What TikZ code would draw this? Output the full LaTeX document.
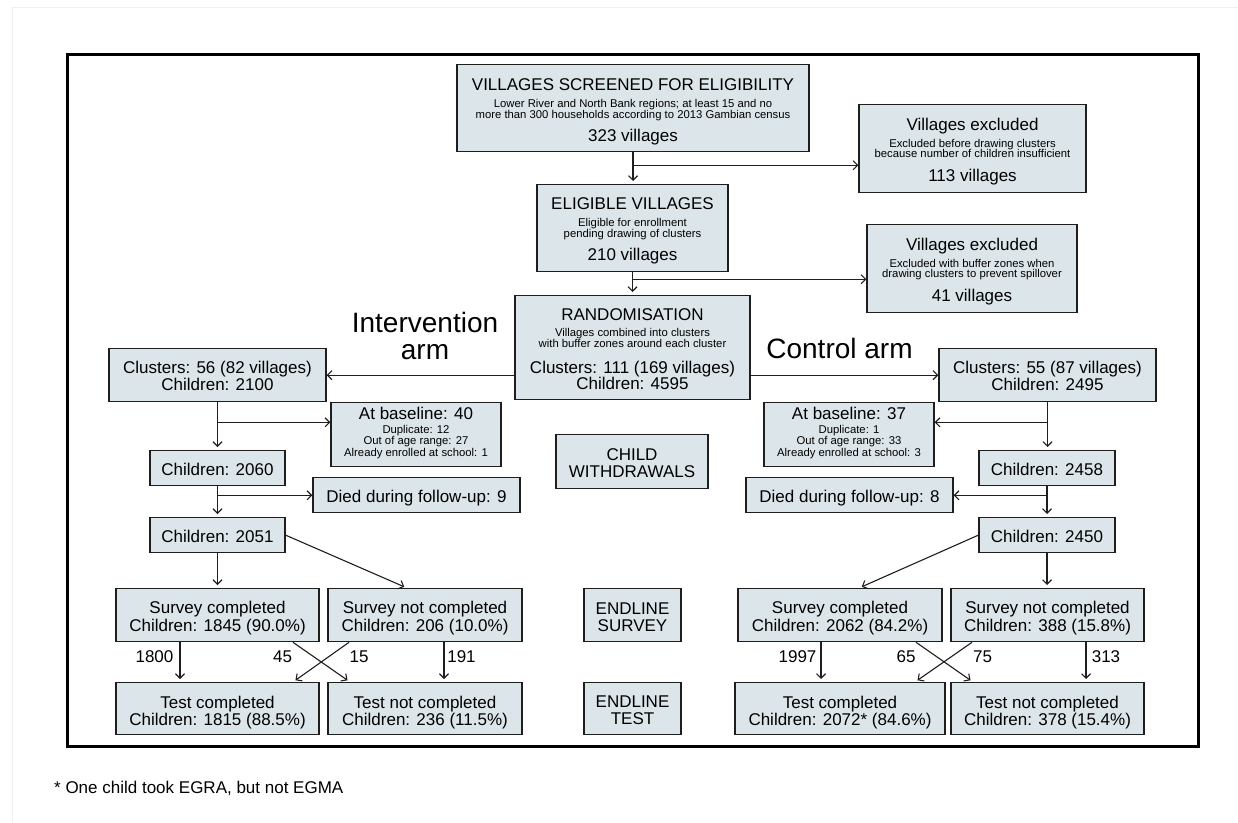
\documentclass[tikz,border=0pt]{standalone}
\usepackage{fontspec}
\setmainfont{Liberation Sans}
\usetikzlibrary{arrows.meta,calc}
\definecolor{boxfill}{RGB}{220,230,234}
\definecolor{ink}{RGB}{30,30,30}
\newcommand\bigf{\fontsize{17}{17}\selectfont}
\newcommand\smf{\fontsize{11.3}{11.3}\selectfont}
\newcommand\tst[1]{\rule{0pt}{#1pt}}
\newcommand\bst[1]{\rule[-#1pt]{0pt}{#1pt}}
\begin{document}
\begin{tikzpicture}[x=1pt,y=-1pt,
 box/.style={draw=ink, fill=boxfill, line width=1.3pt, inner sep=0pt, align=center, font=\bigf, anchor=north},
 arr/.style={draw=ink, line width=1.1pt, -{Straight Barb[length=4.5pt,width=9pt,line width=1.1pt]}},
 gap/.style={shorten >=3pt},
 num/.style={font=\bigf, inner sep=0pt, anchor=base}]
\useasboundingbox (0,0) rectangle (1238,822);
\draw[gray!12, line width=0.8pt] (12,822) -- (12,7) -- (1238,7);
\draw[line width=3pt] (67,54.5) rectangle (1198.5,746.5);

% top section
\node[box, minimum width=352pt] (scr) at (633,64) {\tst{26}VILLAGES SCREENED FOR ELIGIBILITY\\[0.2pt]{\smf Lower River and North Bank regions; at least 15 and no}\\[-6.4pt]{\smf more than 300 households according to 2013 Gambian census}\\[6.2pt]323 villages\bst{10}};
\node[box, minimum width=191pt] (elig) at (632.5,184) {\tst{25}ELIGIBLE VILLAGES\\[0.2pt]{\smf Eligible for enrollment}\\[-6.4pt]{\smf pending drawing of clusters}\\[6.2pt]210 villages\bst{11}};
\node[box, minimum width=227pt] (exc1) at (972.5,104) {\tst{25.5}Villages excluded\\[0.2pt]{\smf Excluded before drawing clusters}\\[-6.4pt]{\smf because number of children insufficient}\\[6.2pt]113 villages\bst{11.5}};
\node[box, minimum width=210pt] (exc2) at (972,224) {\tst{25.5}Villages excluded\\[0.2pt]{\smf Excluded with buffer zones when}\\[-6.4pt]{\smf drawing clusters to prevent spillover}\\[6.2pt]41 villages\bst{11.5}};
\node[box, minimum width=235pt] (rand) at (632.5,295) {\tst{25}RANDOMISATION\\[-1pt]{\smf Villages combined into clusters}\\[-6.3pt]{\smf with buffer zones around each cluster}\\[9.6pt]Clusters: 111 (169 villages)\\[-1.3pt]Children: 4595\bst{10}};

% arm labels
\node[font=\fontsize{28}{27}\selectfont, align=center, inner sep=0pt] (intlab) at (425,335.5) {Intervention\\arm};
\node[font=\fontsize{28}{28}\selectfont, inner sep=0pt, anchor=base] (ctllab) at (839.5,358) {Control arm};

% arms
\node[box, minimum width=217pt] (cl56) at (217.5,348) {\tst{25.3}Clusters: 56 (82 villages)\\[-0.3pt]Children: 2100\bst{11}};
\node[box, minimum width=217pt] (cl55) at (1047.5,348) {\tst{25.3}Clusters: 55 (87 villages)\\[-0.3pt]Children: 2495\bst{11}};
\node[box, minimum width=170pt] (base40) at (416,402) {\tst{16.7}At baseline: 40\\[-3pt]{\smf Duplicate: 12}\\[-5.4pt]{\smf Out of age range: 27}\\[-5.3pt]{\smf Already enrolled at school: 1}\bst{10}};
\node[box, minimum width=170pt] (base37) at (849,402) {\tst{16.7}At baseline: 37\\[-3pt]{\smf Duplicate: 1}\\[-5.4pt]{\smf Out of age range: 33}\\[-5.3pt]{\smf Already enrolled at school: 3}\bst{10}};
\node[box, minimum width=135pt] (c2060) at (217.5,450) {\tst{25}Children: 2060\bst{10}};
\node[box, minimum width=136pt] (c2458) at (1047,450) {\tst{25}Children: 2458\bst{10}};
\node[box, minimum width=152pt] (withdr) at (632,434) {\tst{26}CHILD\\[0.3pt]WITHDRAWALS\bst{10.7}};
\node[box, minimum width=207pt] (died9) at (416.5,477) {\tst{24.7}Died during follow-up: 9\bst{10.3}};
\node[box, minimum width=207pt] (died8) at (849.5,477) {\tst{24.7}Died during follow-up: 8\bst{10.3}};
\node[box, minimum width=135pt] (c2051) at (217.5,517) {\tst{25}Children: 2051\bst{10}};
\node[box, minimum width=136pt] (c2450) at (1047,517) {\tst{25}Children: 2450\bst{10}};

% endline
\node[box, minimum width=203pt] (sc1) at (217.5,588) {\tst{25.3}Survey completed\\[0.3pt]Children: 1845 (90.0\%)\bst{10.4}};
\node[box, minimum width=194pt] (snc1) at (425,588) {\tst{25.3}Survey not completed\\[0.3pt]Children: 206 (10.0\%)\bst{10.4}};
\node[box, minimum width=203pt] (tc1) at (217.5,682) {\tst{25.7}Test completed\\[0.3pt]Children: 1815 (88.5\%)\bst{9}};
\node[box, minimum width=194pt] (tnc1) at (425,682) {\tst{25.7}Test not completed\\[0.3pt]Children: 236 (11.5\%)\bst{9}};
\node[box, minimum width=204pt] (sc2) at (840,588) {\tst{25.3}Survey completed\\[0.3pt]Children: 2062 (84.2\%)\bst{10.4}};
\node[box, minimum width=193pt] (snc2) at (1047.5,588) {\tst{25.3}Survey not completed\\[0.3pt]Children: 388 (15.8\%)\bst{10.4}};
\node[box, minimum width=210pt] (tc2) at (840,682) {\tst{25.7}Test completed\\[0.3pt]Children: 2072* (84.6\%)\bst{9}};
\node[box, minimum width=193pt] (tnc2) at (1047.5,682) {\tst{25.7}Test not completed\\[0.3pt]Children: 378 (15.4\%)\bst{9}};
\node[box, minimum width=97pt] (esurv) at (632.5,588) {\tst{26.3}ENDLINE\\[-0.6pt]SURVEY\bst{10.3}};
\node[box, minimum width=97pt] (etest) at (632.5,682) {\tst{25.3}ENDLINE\\[-0.3pt]TEST\bst{10}};

% connectors top
\draw[arr,gap] (scr.south) -- (scr.south |- elig.north);
\coordinate (j1) at ($(scr.south)+(0,13)$);
\draw[arr] (j1) -- (j1 -| exc1.west);
\draw[arr,gap] (elig.south) -- (elig.south |- rand.north);
\coordinate (j2) at ($(elig.south)+(0,7)$);
\draw[arr] (j2) -- (j2 -| exc2.west);
\draw[arr] (rand.west |- cl56.east) -- (cl56.east);
\draw[arr] (rand.east |- cl55.west) -- (cl55.west);

% intervention arm
\draw[arr,gap] (cl56.south) -- (c2060.north);
\coordinate (j3) at ($(cl56.south)+(0,20)$);
\draw[arr] (j3) -- (j3 -| base40.west);
\draw[arr,gap] (c2060.south) -- (c2051.north);
\coordinate (j5) at ($(c2060.south)+(0,9)$);
\draw[arr] (j5) -- (j5 -| died9.west);
\draw[arr,gap] (c2051.south) -- (sc1.north);
\draw[arr,gap] (c2051.east) -- ($(snc1.north)+(-18,0)$);
\draw[arr,gap] ($(sc1.south)+(-37.5,0)$) -- ($(tc1.north)+(-37.5,0)$);
\draw[arr,gap] ($(sc1.south)+(75.5,0)$) -- ($(tnc1.north)+(-75,0)$);
\draw[arr,gap] ($(snc1.south)+(-76,0)$) -- ($(tc1.north)+(75.5,0)$);
\draw[arr,gap] ($(snc1.south)+(19,0)$) -- ($(tnc1.north)+(19,0)$);

% control arm
\draw[arr,gap] (cl55.south) -- (cl55.south |- c2458.north);
\coordinate (j4) at ($(cl55.south)+(0,20)$);
\draw[arr] (j4) -- (j4 -| base37.east);
\draw[arr,gap] (c2458.south) -- (c2450.north);
\coordinate (j6) at ($(c2458.south)+(0,9)$);
\draw[arr] (j6) -- (j6 -| died8.east);
\draw[arr,gap] (c2450.west) -- ($(sc2.north)+(19,0)$);
\draw[arr,gap] (c2450.south) -- (c2450.south |- snc2.north);
\draw[arr,gap] ($(sc2.south)+(-19,0)$) -- ($(tc2.north)+(-19,0)$);
\draw[arr,gap] ($(sc2.south)+(76,0)$) -- ($(tnc2.north)+(-74.5,0)$);
\draw[arr,gap] ($(snc2.south)+(-75.5,0)$) -- ($(tc2.north)+(75,0)$);
\draw[arr,gap] ($(snc2.south)+(38.5,0)$) -- ($(tnc2.north)+(38.5,0)$);

% counts
\node[num] (n1) at (154.5,662) {1800};
\node[num] (n2) at (282.5,662) {45};
\node[num] (n3) at (359,662) {15};
\node[num] (n4) at (461.5,662) {191};
\node[num] (n5) at (797.5,662) {1997};
\node[num] (n6) at (906,662) {65};
\node[num] (n7) at (982.5,662) {75};
\node[num] (n8) at (1106,662) {313};

% footnote
\node[font=\bigf, anchor=base west, inner sep=0pt] (fn) at (54,793) {* One child took EGRA, but not EGMA};
\end{tikzpicture}
\end{document}
